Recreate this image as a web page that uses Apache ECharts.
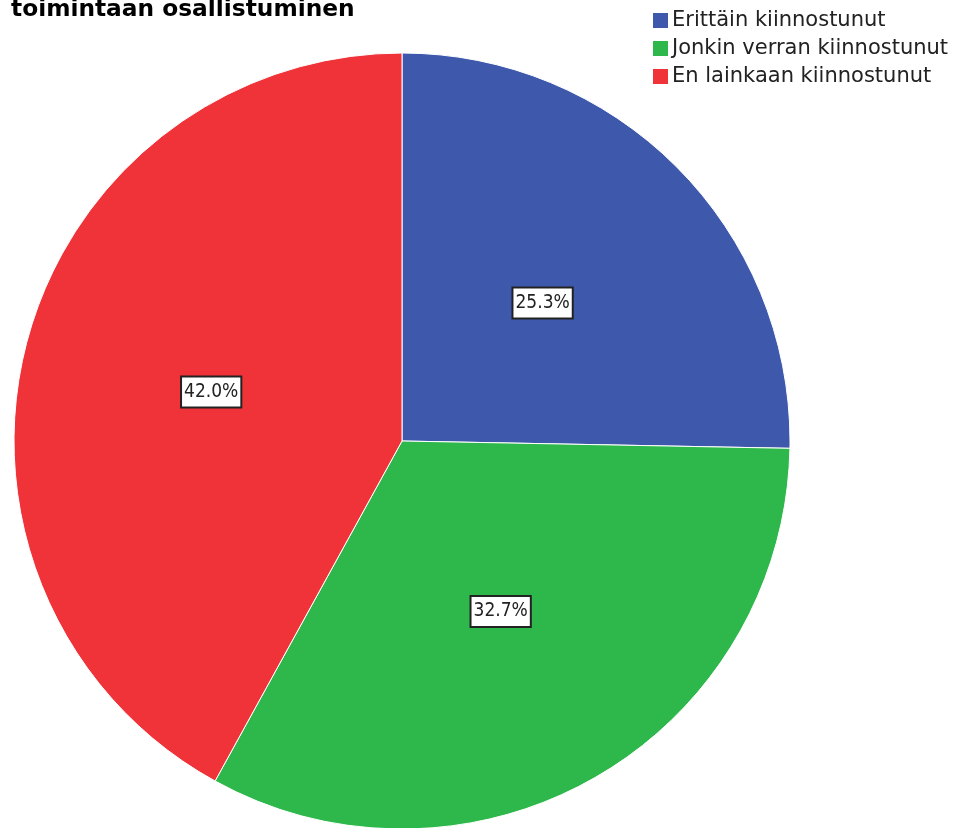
<!DOCTYPE html>
<html><head><meta charset="utf-8">
<script src="https://cdn.jsdelivr.net/npm/echarts@6/dist/echarts.min.js"></script>
<style>html,body{margin:0;padding:0;background:#fff}#c{width:971px;height:828px}</style>
</head><body><div id="c"></div>
<script>
const titleText = "toimintaan osallistuminen";
const categories = ["Erittäin kiinnostunut", "Jonkin verran kiinnostunut", "En lainkaan kiinnostunut"];
const values = [25.3, 32.7, 42.0];
const colors = ["#3e58ac", "#2eb84c", "#ef3339"];
const FONT = "'DejaVu Sans', Verdana, sans-serif";
const FONT_C = "'DejaVu Sans Condensed', 'DejaVu Sans', sans-serif";

const chart = echarts.init(document.getElementById('c'));
chart.setOption({
  animation: false,
  title: {
    text: titleText, left: 6, top: -7,
    textStyle: {fontFamily: FONT, fontWeight: 'bold', fontSize: 23.3, color: '#000'}
  },
  legend: {
    orient: 'vertical', left: 646, top: 5, itemWidth: 17, itemHeight: 17, itemGap: 7,
    icon: 'rect',
    textStyle: {fontFamily: FONT, fontSize: 21, lineHeight: 21, color: '#222', padding: [0,0,0,-2]},
    data: categories
  },
  series: [{
    type: 'pie', center: [402, 441], radius: [0, 388], startAngle: 90, clockwise: true,
    itemStyle: {borderColor: '#fff', borderWidth: 1},
    label: {
      position: 'inner', formatter: p => p.value.toFixed(1) + '%',
      fontFamily: FONT_C, fontSize: 19, lineHeight: 24, color: '#222',
      backgroundColor: '#fff', borderColor: '#222', borderWidth: 2, padding: [3, 2, 2, 2]
    },
    labelLine: {show: false},
    data: categories.map((c, i) => ({name: c, value: values[i], itemStyle: {color: colors[i]}}))
  }]
});
</script></body></html>
